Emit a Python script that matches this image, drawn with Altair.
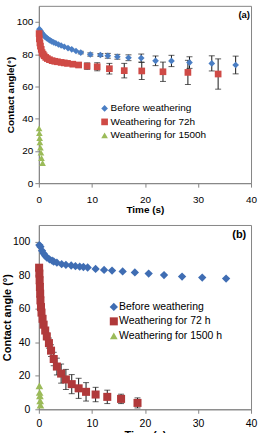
import altair as alt
import pandas as pd

# ---------------- Panel (a) data ----------------
a_series = ["Before weathering", "Weathering for 72h", "Weathering for 1500h"]
a_colors = ["#4A7EC4", "#CF4A46", "#9BBB59"]

a_before_t = [0.1, 0.3, 0.5, 0.7, 0.9, 1.1, 1.3, 1.5, 1.8, 2.1, 2.4, 2.8, 3.2, 3.7, 4.2, 4.8,
              5.5, 6.2, 7.0, 7.9, 9.7, 11.6, 13.0, 14.8, 16.9, 19.3, 22.0, 25.0, 28.4, 32.6, 37.1]
a_before_v = [95.5, 94.5, 93.5, 92.6, 91.8, 91.1, 90.5, 90.0, 89.2, 88.6, 88.0, 87.3, 86.8, 86.0, 85.4, 84.6,
              83.8, 83.0, 82.0, 81.0, 79.8, 79.5, 79.0, 78.4, 77.8, 77.6, 75.9, 75.8, 74.8, 74.3, 73.3]
a_before_e = [0, 0, 0, 0, 0, 0, 0, 0, 0, 0, 0, 0, 0, 0, 0, 0,
              0, 0, 0, 0.8, 1.0, 1.0, 1.5, 1.5, 1.8, 2.5, 3.0, 3.5, 3.6, 4.7, 5.5]

a_72_t = [0.05, 0.1, 0.2, 0.3, 0.45, 0.6, 0.8, 1.0, 1.3, 1.6, 2.0, 2.5, 3.0, 3.5, 4.2, 4.8, 5.4,
          6.4, 7.5, 9.1, 11.0, 13.3, 16.1, 19.4, 23.4, 28.1, 33.8]
a_72_v = [92.8, 89.5, 87.0, 85.0, 83.0, 81.0, 80.0, 79.0, 78.0, 77.3, 76.6, 76.0, 75.6, 75.3, 74.9, 74.6, 74.3,
          73.8, 73.3, 72.6, 72.2, 71.0, 69.8, 69.6, 69.1, 68.7, 67.7]
a_72_e = [0, 0, 0, 0, 0, 0, 0, 0, 0, 0, 0, 0, 0, 0, 0, 0, 0,
          0.8, 1.5, 2.0, 2.5, 3.3, 4.5, 5.3, 6.0, 7.5, 9.4]

a_1500_t = [0.05, 0.1, 0.15, 0.2, 0.3, 0.4, 0.5, 0.7]
a_1500_v = [34.0, 31.0, 28.0, 25.3, 22.0, 19.0, 15.6, 12.5]
a_1500_e = [0, 0, 0, 0, 0, 0, 0, 0]

# ---------------- Panel (b) data ----------------
b_series = ["Before weathering", "Weathering for 72 h", "Weathering for 1500 h"]
b_colors = ["#3F6DB3", "#B0393A", "#9BBB59"]

b_before_t = [0.1, 0.3, 0.6, 0.9, 1.2, 1.5, 2.0, 2.5, 2.8, 3.4, 4.3, 5.1, 6.1, 6.9, 7.7, 8.4, 9.2,
              10.7, 12.3, 13.8, 15.8, 18.1, 20.7, 23.6, 27.0, 30.8, 35.3]
b_before_v = [98.0, 97.0, 94.6, 93.0, 91.6, 90.6, 89.5, 88.7, 88.2, 87.5, 86.6, 86.2, 85.8, 85.4, 85.1, 84.9, 84.6,
              83.8, 83.2, 82.8, 82.3, 81.7, 81.0, 80.1, 79.2, 78.6, 78.0]
b_before_e = [0] * 27

b_72_t = [0.05, 0.1, 0.15, 0.2, 0.25, 0.3, 0.4, 0.5, 0.7, 0.9, 1.2, 1.5, 1.9, 2.3, 2.8, 3.4, 4.2,
          5.1, 6.2, 7.5, 8.9, 10.7, 12.9, 15.5, 18.6]
b_72_v = [84.5, 81.0, 77.0, 73.0, 69.0, 65.0, 61.0, 57.7, 54.0, 50.5, 47.0, 43.5, 39.5, 35.0, 30.0, 25.5, 21.3,
          17.8, 15.0, 12.5, 10.4, 8.8, 7.4, 6.2, 3.8]
b_72_e = [0, 0, 0, 0, 0, 0, 0, 0, 1.0, 1.5, 1.5, 2.0, 3.0, 3.5, 4.0, 5.0, 5.7,
          6.0, 5.7, 6.0, 5.5, 4.3, 4.0, 2.8, 3.0]

b_1500_t = [0.1, 0.15, 0.2, 0.25, 0.3]
b_1500_v = [14.0, 10.0, 8.0, 5.0, 2.5]
b_1500_e = [0, 0, 0, 0, 0]

x_ticks = [0, 10, 20, 30, 40]
y_ticks = [0, 20, 40, 60, 80, 100]


def make_df(series, ts, vs, es):
    rows = []
    for s, t, v, e in zip(series, ts, vs, es):
        for ti, vi, ei in zip(t, v, e):
            rows.append({"series": s, "t": ti, "v": vi, "err": ei})
    return pd.DataFrame(rows)


def panel(df, series, colors, sizes, w, h, ytitle, tag, tag_t, tag_v, tag_fs,
          lab_fs, title_fs, xlab_pad, ylab_pad, ytitle_pad, xtitle_pad,
          leg_x, leg_y, leg_fs, leg_pad, leg_sym, leg_off):
    xs = alt.Scale(domain=[0, 40], nice=False, zero=False)
    ys = alt.Scale(domain=[0, 110], nice=False, zero=False)
    xaxis = alt.Axis(values=x_ticks, grid=False, tickSize=4, labelFontSize=lab_fs,
                     labelPadding=xlab_pad, titleFontSize=title_fs, titleFontWeight="bold",
                     titlePadding=xtitle_pad, domainColor="#868686", tickColor="#868686",
                     labelColor="#000000", titleColor="#000000", labelFlush=False)
    yaxis = alt.Axis(values=y_ticks, grid=False, tickSize=4, labelFontSize=lab_fs,
                     labelPadding=ylab_pad, titleFontSize=title_fs, titleFontWeight="bold",
                     titlePadding=ytitle_pad, domainColor="#868686", tickColor="#868686",
                     labelColor="#000000", titleColor="#000000")
    xenc = alt.X("t:Q", scale=xs, axis=xaxis, title="Time (s)")
    legend = alt.Legend(orient="none", legendX=leg_x, legendY=leg_y, title=None,
                        labelFontSize=leg_fs, rowPadding=leg_pad, symbolSize=leg_sym,
                        labelOffset=leg_off, padding=0, symbolStrokeWidth=0,
                        labelColor="#000000")
    base = alt.Chart(df)
    errs = base.transform_filter("datum.err > 0").transform_calculate(
        lo="datum.v - datum.err", hi="datum.v + datum.err"
    ).mark_errorbar(ticks=True, size=6, thickness=1, color="#1a1a1a").encode(
        x=xenc,
        y=alt.Y("lo:Q", scale=ys, axis=yaxis, title=ytitle),
        y2="hi:Q",
    )
    pts = base.mark_point(filled=True, opacity=1).encode(
        x=xenc,
        y=alt.Y("v:Q", scale=ys, axis=yaxis, title=ytitle),
        color=alt.Color("series:N", scale=alt.Scale(domain=series, range=colors), legend=legend),
        shape=alt.Shape("series:N", scale=alt.Scale(domain=series,
                                                    range=["diamond", "square", "triangle-up"]),
                        legend=legend),
        size=alt.Size("series:N", scale=alt.Scale(domain=series, range=sizes), legend=None),
        order=alt.Order("ord:Q"),
    ).transform_calculate(ord="indexof(%s, datum.series)" % str(series))
    tagdf = pd.DataFrame({"t": [tag_t], "v": [tag_v], "label": [tag]})
    tagc = alt.Chart(tagdf).mark_text(align="right", baseline="middle", fontWeight="bold",
                                      fontSize=tag_fs, color="#000000").encode(
        x=xenc, y=alt.Y("v:Q", scale=ys, axis=yaxis, title=ytitle), text="label:N")
    return alt.layer(errs, pts, tagc).properties(width=w, height=h)


df_a = make_df(a_series, [a_before_t, a_72_t, a_1500_t], [a_before_v, a_72_v, a_1500_v],
               [a_before_e, a_72_e, a_1500_e])
df_b = make_df(b_series, [b_before_t, b_72_t, b_1500_t], [b_before_v, b_72_v, b_1500_v],
               [b_before_e, b_72_e, b_1500_e])

pa = panel(df_a, a_series, a_colors, [45, 45, 40], 213, 178, "Contact angle(°)", "(a)", 39.8, 104, 9.5,
           10, 10, 7, 2, 1, 0, 61, 98, 10, 3.5, 36, 1)
pb = panel(df_b, b_series, b_colors, [70, 60, 36], 213, 185, "Contact angle (°)", "(b)", 39.1, 104, 11,
           10.5, 11, 5, 5, 0, 1, 70, 77, 10.5, 3.5, 42, 0)

chart = alt.vconcat(pa, pb, spacing=9).resolve_scale(
    color="independent", shape="independent", size="independent", x="independent", y="independent"
).resolve_legend(color="independent", shape="independent").properties(
    padding={"left": 0, "top": 4, "right": 0, "bottom": 0}
).configure(font="Liberation Sans").configure_view(stroke="#868686", strokeWidth=1)

chart.save("out.html", embed_options={"renderer": "svg", "actions": False})
